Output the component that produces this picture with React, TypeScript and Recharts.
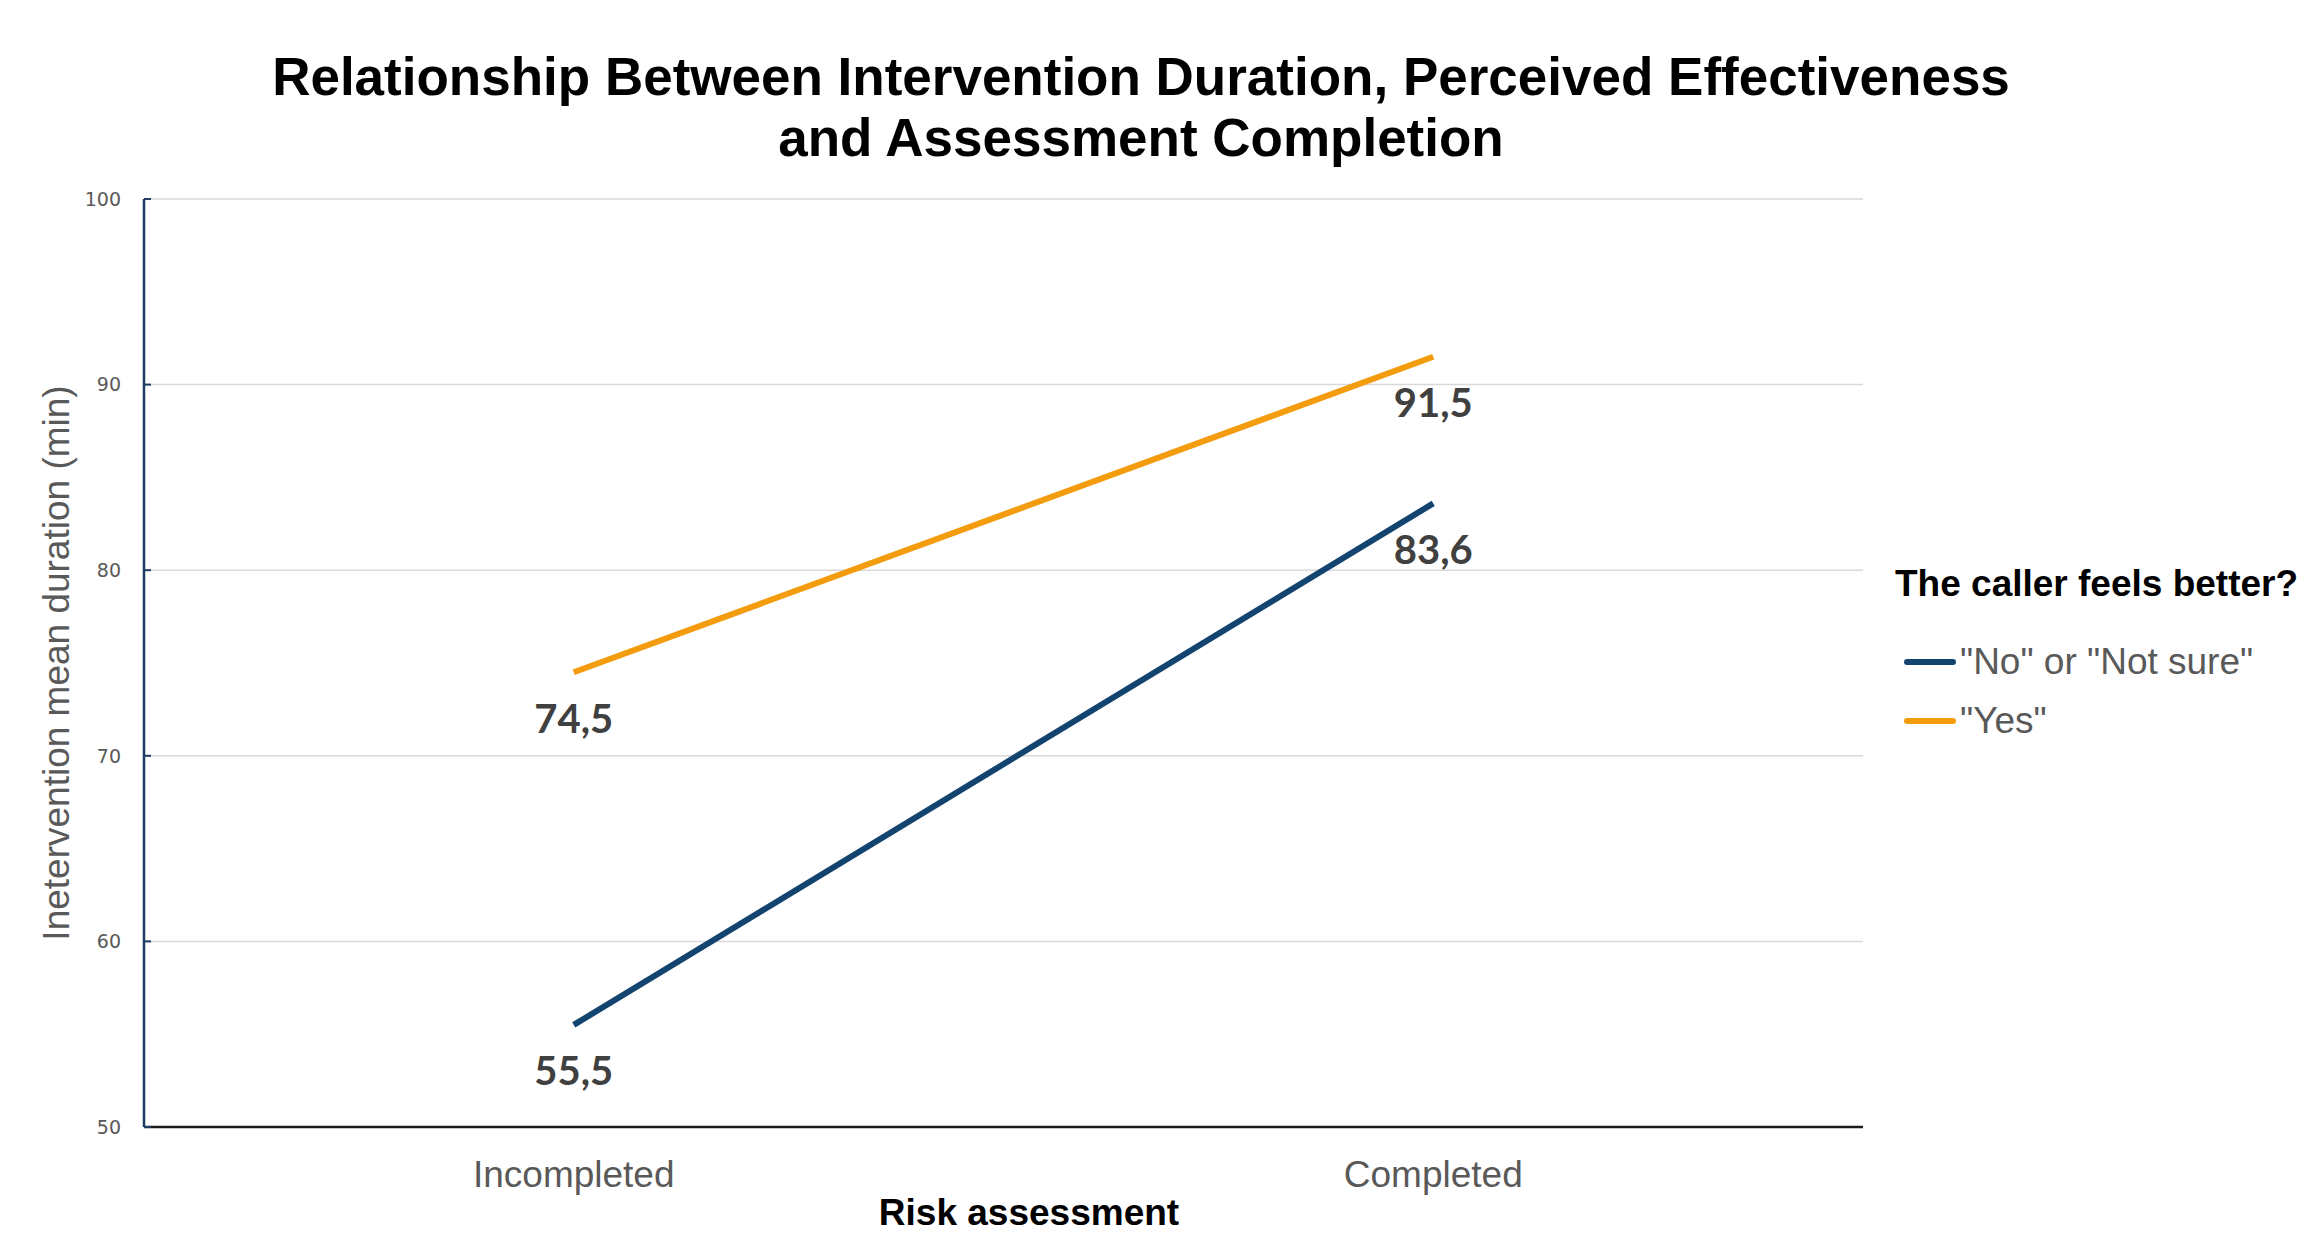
import React from 'react';
import { LineChart, Line, XAxis, YAxis, CartesianGrid, LabelList, Label } from 'recharts';

const categories = ['Incompleted', 'Completed'];
const noNotSure = [55.5, 83.6];
const yes = [74.5, 91.5];
const yTicks = [50, 60, 70, 80, 90, 100];

const seriesNames = ['"No" or "Not sure"', '"Yes"'];
const seriesColors = ['#134470', '#F39C0E'];

const data = categories.map((c, i) => ({ name: c, no: noNotSure[i], yes: yes[i] }));

const W = 2309;
const H = 1234;
const sans = '"Liberation Sans", Arial, sans-serif';

const fmt = (v: any) => String(v).replace('.', ',');

function LegendBox() {
  return (
    <div style={{ position: 'absolute', left: 1895, top: 562, fontFamily: sans }}>
      <div style={{ fontSize: 37, fontWeight: 700, color: '#000', marginBottom: 26, whiteSpace: 'nowrap', lineHeight: '44px' }}>
        The caller feels better?
      </div>
      {seriesNames.map((n, i) => (
        <div key={n} style={{ display: 'flex', alignItems: 'center', height: 59 }}>
          <div style={{ width: 52, height: 6, borderRadius: 3, background: seriesColors[i], marginLeft: 9, marginRight: 4 }} />
          <span style={{ fontSize: 37, color: '#595959', whiteSpace: 'nowrap' }}>{n}</span>
        </div>
      ))}
    </div>
  );
}

export default function App() {
  return (
    <div style={{ position: 'absolute', left: 0, top: 0, width: W, height: H, background: '#fff', overflow: 'hidden' }}>
      <div
        style={{
          position: 'absolute',
          left: 0,
          top: 46,
          width: 2282,
          textAlign: 'center',
          fontFamily: sans,
          fontWeight: 700,
          fontSize: 53,
          lineHeight: '61px',
          color: '#000',
          zIndex: 1,
        }}
      >
        Relationship Between Intervention Duration, Perceived Effectiveness
        <br />
        and Assessment Completion
      </div>
      <LegendBox />
      <LineChart width={W} height={H} data={data} margin={{ top: 199, right: 446, bottom: 0, left: 64 }}>
        <CartesianGrid horizontal vertical={false} stroke="#d9d9d9" strokeWidth={1.5} />
        <XAxis
          dataKey="name"
          scale="band"
          height={107}
          axisLine={{ stroke: '#1a1a1a', strokeWidth: 2.5 }}
          tickLine={false}
          tickMargin={28}
          tick={{ fontSize: 37, fill: '#595959', fontFamily: sans }}
        >
          <Label
            content={() => (
              <text
                x={1029}
                y={1225}
                textAnchor="middle"
                fontFamily={sans}
                fontWeight={700}
                fontSize={37}
                fill="#000"
              >
                Risk assessment
              </text>
            )}
          />
        </XAxis>
        <YAxis
          width={80}
          domain={[50, 100]}
          ticks={yTicks}
          axisLine={{ stroke: '#1f3c64', strokeWidth: 2.5 }}
          tickLine={{ stroke: '#1f3c64', strokeWidth: 2 }}
          tickSize={-7}
          tickMargin={30}
          tick={{ fontSize: 19, fill: '#595959', fontFamily: '"DejaVu Sans", Verdana, sans-serif' }}
        >
          <Label
            content={({ viewBox }: any) => {
              const cx = 56;
              const cy = viewBox.y + viewBox.height / 2;
              return (
                <text
                  x={cx}
                  y={cy}
                  transform={`rotate(-90 ${cx} ${cy})`}
                  textAnchor="middle"
                  dominantBaseline="central"
                  fontFamily={sans}
                  fontSize={37}
                  fill="#595959"
                >
                  Inetervention mean duration (min)
                </text>
              );
            }}
          />
        </YAxis>
        <Line
          dataKey="no"
          name={seriesNames[0]}
          stroke={seriesColors[0]}
          strokeWidth={6}
          dot={false}
          isAnimationActive={false}
        >
          <LabelList
            dataKey="no"
            position="bottom"
            offset={32}
            formatter={fmt}
            style={{ fontFamily: 'Lato, sans-serif', fontWeight: 700, fontSize: 40, fill: '#404040' }}
          />
        </Line>
        <Line
          dataKey="yes"
          name={seriesNames[1]}
          stroke={seriesColors[1]}
          strokeWidth={6}
          dot={false}
          isAnimationActive={false}
        >
          <LabelList
            dataKey="yes"
            position="bottom"
            offset={32}
            formatter={fmt}
            style={{ fontFamily: 'Lato, sans-serif', fontWeight: 700, fontSize: 40, fill: '#404040' }}
          />
        </Line>
      </LineChart>
    </div>
  );
}
